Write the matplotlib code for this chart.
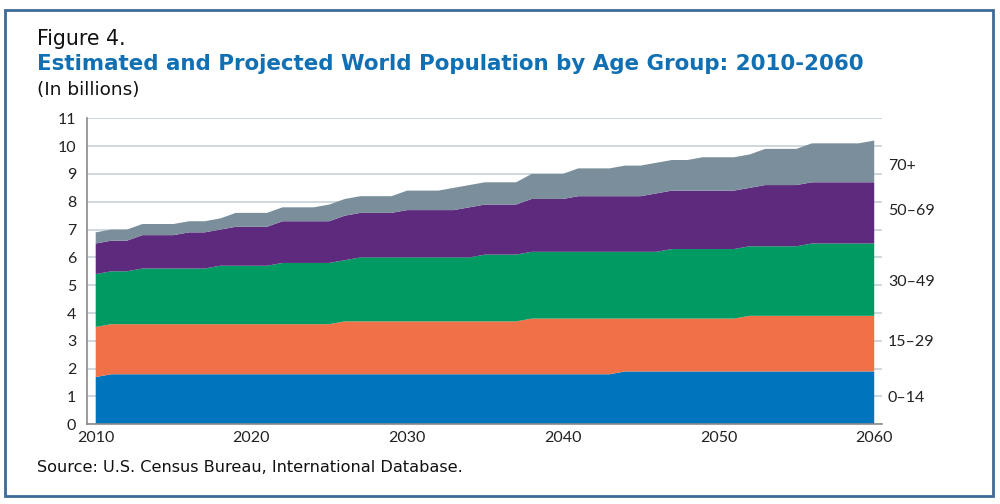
import matplotlib.pyplot as plt
from matplotlib.patches import Rectangle

years = list(range(2010, 2061))

age_0_14 = [1.7, 1.8, 1.8, 1.8, 1.8, 1.8, 1.8, 1.8, 1.8, 1.8,
            1.8, 1.8, 1.8, 1.8, 1.8, 1.8, 1.8, 1.8, 1.8, 1.8,
            1.8, 1.8, 1.8, 1.8, 1.8, 1.8, 1.8, 1.8, 1.8, 1.8,
            1.8, 1.8, 1.8, 1.8, 1.9, 1.9, 1.9, 1.9, 1.9, 1.9,
            1.9, 1.9, 1.9, 1.9, 1.9, 1.9, 1.9, 1.9, 1.9, 1.9,
            1.9]
age_15_29 = [1.8, 1.8, 1.8, 1.8, 1.8, 1.8, 1.8, 1.8, 1.8, 1.8,
             1.8, 1.8, 1.8, 1.8, 1.8, 1.8, 1.9, 1.9, 1.9, 1.9,
             1.9, 1.9, 1.9, 1.9, 1.9, 1.9, 1.9, 1.9, 2.0, 2.0,
             2.0, 2.0, 2.0, 2.0, 1.9, 1.9, 1.9, 1.9, 1.9, 1.9,
             1.9, 1.9, 2.0, 2.0, 2.0, 2.0, 2.0, 2.0, 2.0, 2.0,
             2.0]
age_30_49 = [1.9, 1.9, 1.9, 2.0, 2.0, 2.0, 2.0, 2.0, 2.1, 2.1,
             2.1, 2.1, 2.2, 2.2, 2.2, 2.2, 2.2, 2.3, 2.3, 2.3,
             2.3, 2.3, 2.3, 2.3, 2.3, 2.4, 2.4, 2.4, 2.4, 2.4,
             2.4, 2.4, 2.4, 2.4, 2.4, 2.4, 2.4, 2.5, 2.5, 2.5,
             2.5, 2.5, 2.5, 2.5, 2.5, 2.5, 2.6, 2.6, 2.6, 2.6,
             2.6]
age_50_69 = [1.1, 1.1, 1.1, 1.2, 1.2, 1.2, 1.3, 1.3, 1.3, 1.4,
             1.4, 1.4, 1.5, 1.5, 1.5, 1.5, 1.6, 1.6, 1.6, 1.6,
             1.7, 1.7, 1.7, 1.7, 1.8, 1.8, 1.8, 1.8, 1.9, 1.9,
             1.9, 2.0, 2.0, 2.0, 2.0, 2.0, 2.1, 2.1, 2.1, 2.1,
             2.1, 2.1, 2.1, 2.2, 2.2, 2.2, 2.2, 2.2, 2.2, 2.2,
             2.2]
age_70_plus = [0.4, 0.4, 0.4, 0.4, 0.4, 0.4, 0.4, 0.4, 0.4, 0.5,
               0.5, 0.5, 0.5, 0.5, 0.5, 0.6, 0.6, 0.6, 0.6, 0.6,
               0.7, 0.7, 0.7, 0.8, 0.8, 0.8, 0.8, 0.8, 0.9, 0.9,
               0.9, 1.0, 1.0, 1.0, 1.1, 1.1, 1.1, 1.1, 1.1, 1.2,
               1.2, 1.2, 1.2, 1.3, 1.3, 1.3, 1.4, 1.4, 1.4, 1.4,
               1.5]

groups = ["0\u201314", "15\u201329", "30\u201349", "50\u201369", "70+"]
colors = ["#0074bd", "#f07148", "#009a62", "#5d2a7e", "#7a8f9b"]
label_y = [0.96, 2.95, 5.13, 7.68, 9.27]

plt.rcParams['font.family'] = ['Lato', 'DejaVu Sans']
head_font = ['DejaVu Sans']

fig = plt.figure(figsize=(10, 5.04), dpi=100)
ax = fig.add_axes([0.0873, 0.1581, 0.7947, 0.6072])

ax.stackplot(years, age_0_14, age_15_29, age_30_49, age_50_69, age_70_plus,
             colors=colors, linewidth=0, zorder=2)

ax.set_xlim(2009.46, 2060.5)
ax.set_ylim(0, 11)
ax.set_yticks(range(0, 12))
ax.set_xticks(range(2010, 2061, 10))
ax.grid(axis='y', color='#c9d4db', linewidth=1.3, zorder=1)
ax.tick_params(length=0, labelsize=11.5, colors='#222222')
ax.tick_params(axis='y', pad=8)
ax.tick_params(axis='x', pad=5)
for side in ['top', 'right']:
    ax.spines[side].set_visible(False)
for side in ['left', 'bottom']:
    ax.spines[side].set_color('#8a8a8a')
    ax.spines[side].set_linewidth(1.2)

for name, y in zip(groups, label_y):
    ax.text(1.0075, y, name, transform=ax.get_yaxis_transform(),
            ha='left', va='center', fontsize=11.5, color='#222222')

fig.text(0.037, 1 - 39 / 504, "Figure 4.", fontsize=14.8, va='center',
         color='#111111', family=head_font)
fig.text(0.037, 1 - 64 / 504, "Estimated and Projected World Population by Age Group: 2010-2060",
         fontsize=15.4, fontweight='bold', va='center', color='#1170b4', family=head_font)
fig.text(0.037, 1 - 90 / 504, "(In billions)", fontsize=13.3, va='center',
         color='#111111', family=head_font)
fig.text(0.037, 1 - 467 / 504, "Source: U.S. Census Bureau, International Database.",
         fontsize=11.6, va='center', color='#111111', family=head_font)

fig.patches.append(Rectangle((0.005, 1 - 496 / 504), 0.988, 486 / 504,
                             transform=fig.transFigure, fill=False,
                             edgecolor='#3d6b99', linewidth=2))

fig.savefig('out.png', dpi=100)
